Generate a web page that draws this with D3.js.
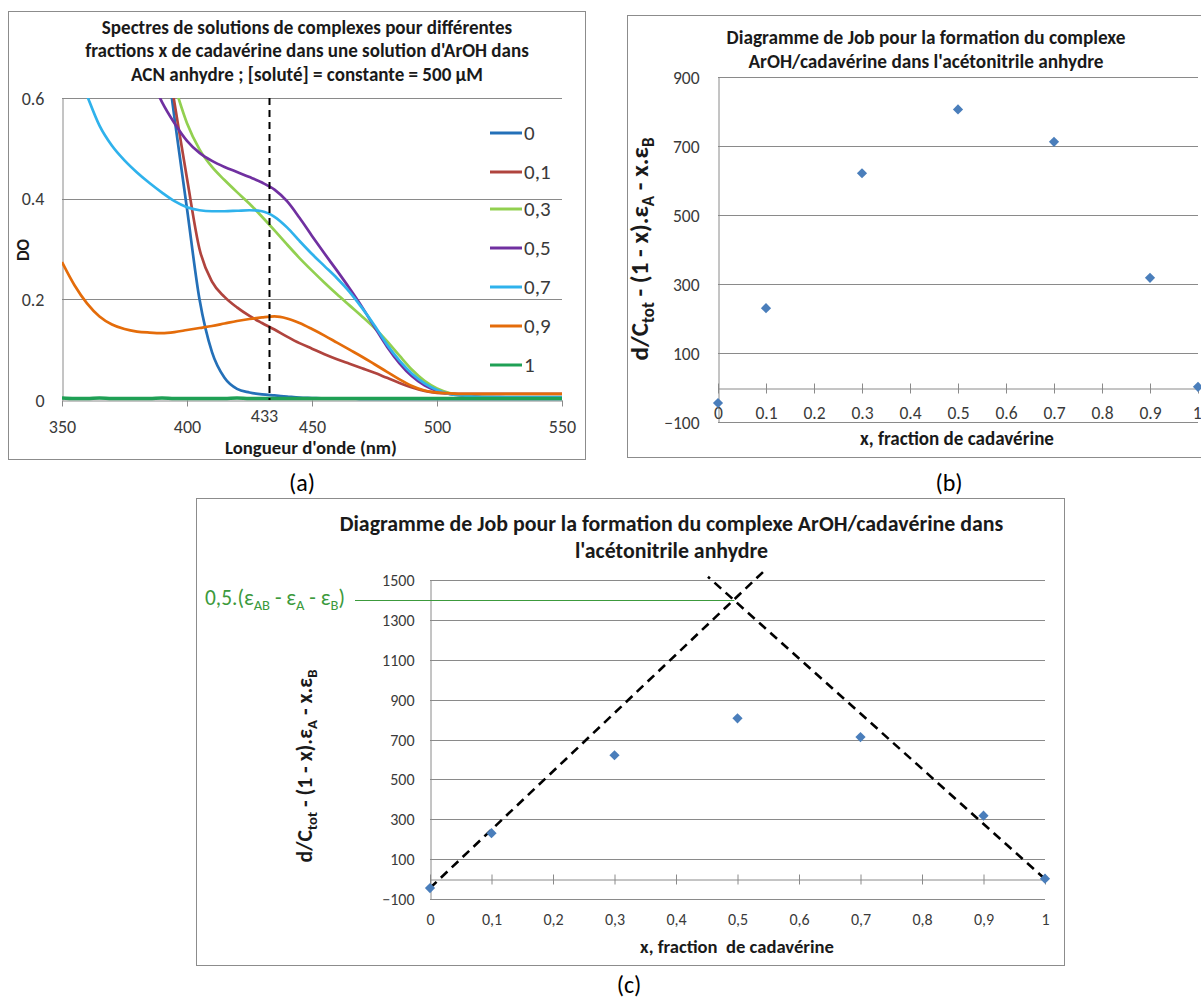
<!DOCTYPE html>
<html><head><meta charset="utf-8">
<script src="https://cdn.jsdelivr.net/npm/d3@7"></script>
<style>body{margin:0;background:#fff} svg{display:block}</style>
</head><body><svg id="c" width="1201" height="997"></svg>
<script>
// ---------- DATA ----------
const wavelengths = [350,355,360,365,370,375,380,385,390,395,400,405,410,415,420,425,430,435,440,445,450,455,460,465,470,475,480,485,490,495,500,505,510,515,520,525,530,535,540,545,550];
const do_x0  = [1.6,1.5,1.4,1.3,1.2,1.1,1.0,0.9,0.75,0.56,0.38,0.2,0.095,0.044,0.022,0.015,0.011,0.009,0.007,0.005,0.004,0.003,0.003,0.003,0.002,0.002,0.002,0.002,0.002,0.002,0.002,0.002,0.002,0.002,0.002,0.002,0.002,0.002,0.002,0.002,0.002];
const do_x01 = [1.6,1.5,1.4,1.3,1.2,1.1,1.0,0.88,0.74,0.59,0.44,0.30,0.235,0.205,0.184,0.167,0.153,0.14,0.126,0.113,0.102,0.091,0.081,0.072,0.063,0.054,0.044,0.034,0.025,0.018,0.014,0.013,0.012,0.012,0.012,0.012,0.012,0.012,0.012,0.012,0.012];
const do_x03 = [1.3,1.2,1.1,1.02,0.95,0.89,0.83,0.77,0.705,0.625,0.55,0.498,0.463,0.437,0.413,0.39,0.364,0.337,0.309,0.282,0.257,0.233,0.21,0.188,0.166,0.143,0.117,0.088,0.06,0.038,0.023,0.014,0.009,0.007,0.006,0.005,0.005,0.005,0.005,0.005,0.005];
const do_x05 = [1.1,1.02,0.95,0.88,0.82,0.76,0.70,0.645,0.592,0.55,0.515,0.491,0.475,0.463,0.453,0.443,0.432,0.418,0.395,0.362,0.326,0.291,0.257,0.222,0.185,0.145,0.106,0.073,0.047,0.029,0.018,0.012,0.009,0.007,0.006,0.006,0.005,0.005,0.005,0.005,0.005];
const do_x07 = [0.75,0.67,0.605,0.545,0.505,0.476,0.452,0.431,0.412,0.395,0.383,0.377,0.375,0.375,0.376,0.377,0.375,0.364,0.343,0.316,0.29,0.266,0.242,0.215,0.183,0.148,0.11,0.078,0.052,0.033,0.02,0.012,0.009,0.007,0.006,0.006,0.006,0.006,0.006,0.006,0.006];
const do_x09 = [0.274,0.228,0.192,0.166,0.15,0.141,0.136,0.134,0.133,0.135,0.139,0.143,0.147,0.152,0.157,0.161,0.164,0.166,0.162,0.153,0.141,0.128,0.114,0.1,0.086,0.071,0.056,0.041,0.028,0.019,0.015,0.013,0.012,0.012,0.012,0.012,0.012,0.012,0.012,0.012,0.012];
const do_x1  = [0.004,0.003,0.003,0.004,0.003,0.003,0.003,0.003,0.004,0.003,0.003,0.003,0.003,0.003,0.004,0.003,0.003,0.003,0.003,0.003,0.003,0.003,0.003,0.003,0.003,0.003,0.003,0.003,0.003,0.003,0.003,0.003,0.003,0.003,0.003,0.003,0.003,0.003,0.003,0.003,0.003];
const seriesNames = ["0","0,1","0,3","0,5","0,7","0,9","1"];
const seriesValues = [do_x0, do_x01, do_x03, do_x05, do_x07, do_x09, do_x1];
const markerWavelength = 433;
const xTicksA = [350,400,450,500,550];
const yTicksA = [0,0.2,0.4,0.6];
const yTickLabelsA = ["0","0.2","0.4","0.6"];

const fracX = [0,0.1,0.3,0.5,0.7,0.9,1];
const jobY  = [-45,230,621,806,712,318,2];
const xTicksJob = [0,0.1,0.2,0.3,0.4,0.5,0.6,0.7,0.8,0.9,1];
const xTickLabelsB = ["0","0.1","0.2","0.3","0.4","0.5","0.6","0.7","0.8","0.9","1"];
const xTickLabelsC = ["0","0,1","0,2","0,3","0,4","0,5","0,6","0,7","0,8","0,9","1"];
const yTicksB = [-100,100,300,500,700,900];
const yTicksC = [-100,100,300,500,700,900,1100,1300,1500];
const tangentLeftX = [0,0.546], tangentLeftY = [-45,1553];
const tangentRightX = [1.0,0.452], tangentRightY = [0,1516];
const plateauLevel = 1400, plateauX = 0.495;

// ---------- STYLE ----------
const colors = ["#2470B8","#B0443E","#92D050","#7030A0","#2FB2EC","#E46C0A","#1FA055"];
const FONT = "Carlito, Calibri, Lato, 'Open Sans', sans-serif";
const GRID = "#8a8a8a", BORDER = "#8c8c8c", TXT = "#3a3a3a", TTL = "#1a1a1a";
const svg = d3.select("#c").style("font-family", FONT);
svg.append("rect").attr("width",1201).attr("height",997).attr("fill","#fff");

function richText(g, parts, fs, attrs) {
  const t = g.append("text").attr("font-size", fs);
  for (const k in attrs) t.attr(k, attrs[k]);
  let prevSub = false;
  parts.forEach(([s, sub]) => {
    const sp = t.append("tspan").text(s);
    if (sub) { sp.attr("font-size", fs*0.68).attr("dy", fs*0.25); prevSub = true; }
    else if (prevSub) { sp.attr("dy", -fs*0.25); prevSub = false; }
  });
  return t;
}
function fitRich(g, parts, target, attrs) {
  let t = richText(g, parts, 16, attrs);
  const w = t.node().getBBox().width;
  t.remove();
  return richText(g, parts, 16*target/w, attrs);
}
function fitLines(g, lines, targets, cx, ys, attrs) {
  const ts = lines.map((s,i) => { const t = g.append("text").attr("font-size",16).text(s); for (const k in attrs) t.attr(k, attrs[k]); return t; });
  const ratios = ts.map((t,i) => targets[i]/t.node().getBBox().width);
  const r = d3.mean(ratios);
  ts.forEach((t,i) => t.attr("font-size", 16*r).attr("x", cx).attr("y", ys[i]).attr("text-anchor","middle").attr("dominant-baseline","central"));
}

// ---------- PANEL (a) ----------
const gA = svg.append("g");
gA.append("rect").attr("x",8.5).attr("y",11.5).attr("width",577).attr("height",448).attr("fill","none").attr("stroke",BORDER);
const xA = d3.scaleLinear().domain([350,550]).range([62,562]);
const yA = d3.scaleLinear().domain([0,0.6]).range([400,98]);
gA.selectAll("line.grid").data(yTicksA.filter(d=>d>0)).join("line")
  .attr("x1",xA(350)).attr("x2",xA(550)).attr("y1",d=>Math.round(yA(d))+0.5).attr("y2",d=>Math.round(yA(d))+0.5)
  .attr("stroke",GRID).attr("stroke-width",1);
const axA = gA.append("g").attr("transform",`translate(0,${Math.round(yA(0))+0.5})`)
  .call(d3.axisBottom(xA).tickValues(xTicksA).tickSize(6).tickSizeOuter(0).tickFormat(d3.format("d")));
const ayA = gA.append("g").attr("transform",`translate(${xA(350)+0.5},0)`)
  .call(d3.axisLeft(yA).tickValues(yTicksA).tickSize(0).tickPadding(18).tickFormat((d,i)=>yTickLabelsA[i]));
[axA, ayA].forEach(a => { a.select(".domain").attr("stroke",GRID); a.selectAll(".tick line").attr("stroke",GRID);
  a.selectAll("text").attr("font-family",FONT).attr("font-size",18).attr("fill",TXT); });
axA.selectAll("text").attr("dy",null).attr("y",26).attr("dominant-baseline","central");
ayA.selectAll("text").attr("dy",null).attr("dominant-baseline","central");

gA.append("clipPath").attr("id","clipA").append("rect").attr("x",xA(350)).attr("y",yA(0.6)).attr("width",xA(550)-xA(350)+2).attr("height",yA(0)-yA(0.6)+4);
const lineA = d3.line().x((d,i)=>xA(wavelengths[i])).y(d=>yA(d)).curve(d3.curveMonotoneX);
gA.append("g").attr("clip-path","url(#clipA)").selectAll("path").data(seriesValues).join("path")
  .attr("d",lineA).attr("fill","none").attr("stroke",(d,i)=>colors[i]).attr("stroke-width",(d,i)=>i===6?3.4:2.7).attr("stroke-linejoin","round");
gA.append("line").attr("x1",xA(markerWavelength)).attr("x2",xA(markerWavelength)).attr("y1",yA(0.6)).attr("y2",yA(0))
  .attr("stroke","#000").attr("stroke-width",2).attr("stroke-dasharray","7,5");
gA.append("text").attr("x",xA(markerWavelength)-5).attr("y",416).attr("text-anchor","middle").attr("dominant-baseline","central")
  .attr("font-size",18).attr("fill",TXT).text(String(markerWavelength));
// legend
const legY = [133,172,209,248,287,326,365];
const leg = gA.append("g");
seriesNames.forEach((n,i) => {
  leg.append("line").attr("x1",490).attr("x2",522).attr("y1",legY[i]).attr("y2",legY[i]).attr("stroke",colors[i]).attr("stroke-width",3);
  leg.append("text").attr("x",524).attr("y",legY[i]).attr("dominant-baseline","central").attr("font-size",21).attr("fill",TXT).text(n);
});
fitLines(gA, ["Spectres de solutions de complexes pour différentes","fractions x de cadavérine dans une solution d'ArOH dans","ACN anhydre ; [soluté] = constante = 500 µM"],
  [408,451,349], 307, [27,50,74], {"font-weight":"bold","fill":TTL});
fitLines(gA, ["Longueur d'onde (nm)"], [172], 311, [447], {"font-weight":"bold","fill":TTL});
gA.append("text").attr("transform","translate(23,250) rotate(-90)").attr("text-anchor","middle").attr("dominant-baseline","central")
  .attr("font-weight","bold").attr("font-size",17).attr("fill",TTL).text("DO");

// ---------- Job plot helper ----------
function jobPanel(opt) {
  const g = svg.append("g");
  g.append("rect").attr("x",opt.box[0]+0.5).attr("y",opt.box[1]+0.5).attr("width",opt.box[2]).attr("height",opt.box[3]).attr("fill","none").attr("stroke",BORDER);
  const x = d3.scaleLinear().domain([0,1]).range(opt.xr);
  const y = d3.scaleLinear().domain(opt.yd).range(opt.yr);
  g.selectAll("line.grid").data(opt.yTicks).join("line")
    .attr("x1",x(0)).attr("x2",x(1)).attr("y1",d=>Math.round(y(d))+0.5).attr("y2",d=>Math.round(y(d))+0.5).attr("stroke",GRID);
  const ay = g.append("g").attr("transform",`translate(${Math.round(x(0))+0.5},0)`)
    .call(d3.axisLeft(y).tickValues(opt.yTicks).tickSize(0).tickPadding(opt.yPad).tickFormat(d3.format("d")));
  const ax = g.append("g").attr("transform",`translate(0,${Math.round(y(0))+0.5})`)
    .call(d3.axisBottom(x).tickValues(xTicksJob).tickSize(5).tickSizeOuter(0).tickFormat((d,i)=>opt.xLabels[i]));
  [ax, ay].forEach(a => { a.select(".domain").attr("stroke",GRID); a.selectAll(".tick line").attr("stroke",GRID);
    a.selectAll("text").attr("font-family",FONT).attr("font-size",opt.fs).attr("fill",TXT).attr("dy",null).attr("dominant-baseline","central"); });
  ax.selectAll(".tick line").attr("y1",-5).attr("y2",5);
  ax.selectAll("text").attr("y",opt.xLabOff);
  if (opt.lastLabelInside) ax.selectAll(".tick text").filter(d=>d===1).attr("text-anchor","end").attr("x",3);
  return {g,x,y};
}
const diamond = d3.symbol().type(d3.symbolSquare).size(52);

// ---------- PANEL (b) ----------
const B = jobPanel({box:[627,15,600,442], xr:[718,1198], yd:[-100,900], yr:[422,77], yTicks:yTicksB, yPad:19, xLabels:xTickLabelsB, fs:17.5, xLabOff:24.5, lastLabelInside:true});
B.g.selectAll("path.pt").data(fracX).join("path").attr("d",diamond)
  .attr("transform",(d,i)=>`translate(${B.x(d)},${B.y(jobY[i])}) rotate(45)`).attr("fill","#4A7EBB");
fitLines(B.g, ["Diagramme de Job pour la formation du complexe","ArOH/cadavérine dans l'acétonitrile anhydre"], [397,357], 926, [37,61], {"font-weight":"bold","fill":TTL});
fitLines(B.g, ["x, fraction de cadavérine"], [194], 957, [438], {"font-weight":"bold","fill":TTL});
const yTitleParts = [["d/C",false],["tot",true],[" - (1 - x).ε",false],["A",true],[" - x.ε",false],["B",true]];
fitRich(B.g, yTitleParts, 223, {"transform":"translate(648,249) rotate(-90)","text-anchor":"middle","font-weight":"bold","fill":TTL});

// ---------- PANEL (c) ----------
const C = jobPanel({box:[196,498,868,467], xr:[430,1045], yd:[-100,1500], yr:[899,580], yTicks:yTicksC, yPad:16, xLabels:xTickLabelsC, fs:16, xLabOff:40});
const tline = d3.line().x(d=>C.x(d[0])).y(d=>C.y(d[1]));
C.g.append("path").attr("d",tline(d3.zip(tangentLeftX,tangentLeftY))).attr("fill","none").attr("stroke","#000").attr("stroke-width",2.6).attr("stroke-dasharray","9,6");
C.g.append("path").attr("d",tline(d3.zip(tangentRightX,tangentRightY))).attr("fill","none").attr("stroke","#000").attr("stroke-width",2.6).attr("stroke-dasharray","9,6");
C.g.selectAll("path.pt").data(fracX).join("path").attr("d",diamond)
  .attr("transform",(d,i)=>`translate(${C.x(d)},${C.y(jobY[i])}) rotate(45)`).attr("fill","#4A7EBB");
const GREEN = "#3C9A3C";
C.g.append("line").attr("x1",355).attr("x2",C.x(plateauX)).attr("y1",Math.round(C.y(plateauLevel))+0.5).attr("y2",Math.round(C.y(plateauLevel))+0.5).attr("stroke",GREEN).attr("stroke-width",1.2);
fitRich(C.g, [["0,5.(ε",false],["AB",true],[" - ε",false],["A",true],[" - ε",false],["B",true],[")",false]], 140,
  {"x":205,"y":C.y(plateauLevel)+5,"fill":GREEN});
fitLines(C.g, ["Diagramme de Job pour la formation du complexe ArOH/cadavérine dans","l'acétonitrile anhydre"], [661,194], 671.5, [523.5,550], {"font-weight":"bold","fill":TTL});
fitLines(C.g, ["x, fraction  de cadavérine"], [194], 737, [946], {"font-weight":"bold","fill":TTL,"style":"white-space:pre"});
fitRich(C.g, yTitleParts, 193, {"transform":"translate(312,766) rotate(-90)","text-anchor":"middle","font-weight":"bold","fill":TTL});

// ---------- panel labels ----------
[["(a)",302,482],["(b)",949,482],["(c)",629,984]].forEach(([s,x,y]) =>
  svg.append("text").attr("x",x).attr("y",y).attr("text-anchor","middle").attr("dominant-baseline","central").attr("font-size",24).attr("fill","#000").text(s));
</script></body></html>
